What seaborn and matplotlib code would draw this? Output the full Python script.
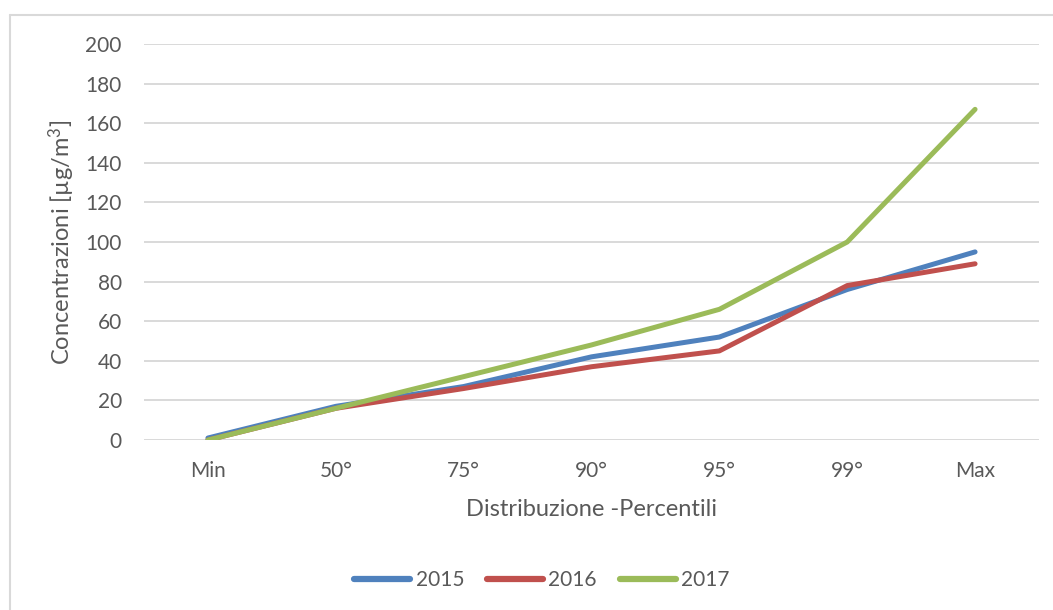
import matplotlib
matplotlib.use("Agg")
import matplotlib.pyplot as plt
from matplotlib.lines import Line2D
import seaborn as sns
import pandas as pd

# Percentile categories and concentration values per year
categories = ["Min", "50°", "75°", "90°", "95°", "99°", "Max"]
years = ["2015", "2016", "2017"]
values_2015 = [1, 17, 27, 42, 52, 76, 95]
values_2016 = [0, 16, 26, 37, 45, 78, 89]
values_2017 = [0, 16, 32, 48, 66, 100, 167]
yticks = [0, 20, 40, 60, 80, 100, 120, 140, 160, 180, 200]
colors = ["#4F81BD", "#C0504D", "#9BBB59"]

df = pd.DataFrame({
    "Percentile": categories * 3,
    "Concentrazione": values_2015 + values_2016 + values_2017,
    "Anno": [y for y in years for _ in categories],
})

sns.set_theme(style="white")
plt.rcParams["font.family"] = ["Lato", "DejaVu Sans"]
plt.rcParams["mathtext.fontset"] = "custom"
plt.rcParams["mathtext.rm"] = "Lato"
plt.rcParams["mathtext.it"] = "Lato:italic"

W, H = 1053, 610
fig = plt.figure(figsize=(W / 100, H / 100), dpi=100)
ax = fig.add_axes([144 / W, 1 - 440 / H, (1039 - 144) / W, (440 - 44) / H])

sns.lineplot(
    data=df, x="Percentile", y="Concentrazione", hue="Anno",
    palette=colors, linewidth=3.6, sort=False, ax=ax, legend=False,
)
for ln in ax.get_lines():
    ln.set_solid_capstyle("round")
    ln.set_solid_joinstyle("round")

ax.set_xlim(-0.5, len(categories) - 0.5)
ax.set_ylim(0, 200)
ax.set_yticks(yticks)
ax.set_xticks(range(len(categories)))
ax.set_xticklabels(categories)
ax.yaxis.grid(True, color="#D9D9D9", linewidth=1.4)
ax.xaxis.grid(False)
ax.set_axisbelow(True)
for s in ax.spines.values():
    s.set_visible(False)
ax.tick_params(axis="both", length=0, labelsize=15, labelcolor="#595959")
ax.tick_params(axis="x", pad=15)
ax.tick_params(axis="y", pad=16)

ax.set_xlabel("Distribuzione -Percentili", fontsize=17, color="#595959")
ax.set_ylabel("Concentrazioni [µg/m$^3$]", fontsize=17, color="#595959")
ax.xaxis.set_label_coords(0.5, (440 - 509) / 396)
ax.xaxis.label.set_va("center")
ax.yaxis.set_label_coords((62 - 144) / 895, 0.5)
ax.yaxis.label.set_va("center")

handles = [Line2D([0], [0], color=c, linewidth=4.5, solid_capstyle="round") for c in colors]
fig.legend(
    handles, years, loc="center", bbox_to_anchor=(542 / W, 1 - 580 / H),
    ncol=3, frameon=False, fontsize=15, handlelength=2.7, handletextpad=0.25,
    columnspacing=1.1, labelcolor="#595959",
)

# Outer chart frame (top and left edges)
fig.add_artist(Line2D([9.5 / W, 1], [1 - 14.5 / H, 1 - 14.5 / H], color="#D9D9D9", linewidth=1.5))
fig.add_artist(Line2D([9.5 / W, 9.5 / W], [0, 1 - 14.5 / H], color="#D9D9D9", linewidth=1.5))

fig.savefig("out.png", dpi=100, facecolor="white")
